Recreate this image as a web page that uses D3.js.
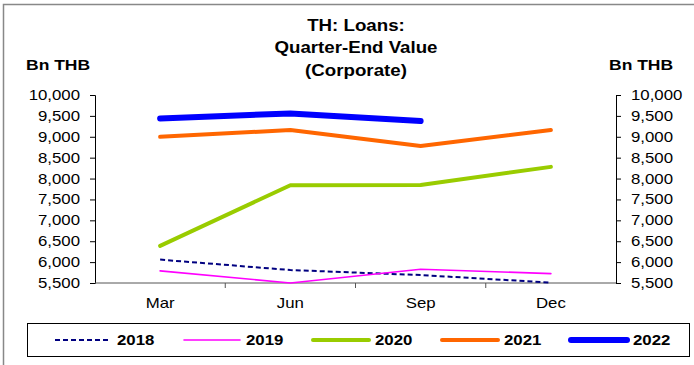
<!DOCTYPE html>
<html>
<head>
<meta charset="utf-8">
<script src="https://cdn.jsdelivr.net/npm/d3@7"></script>
<style>
html,body{margin:0;padding:0;background:#fff;}
svg{display:block;font-family:"Liberation Sans",Arial,sans-serif;}
</style>
</head>
<body>
<svg id="c" width="694" height="365"></svg>
<script>
const categories = ["Mar", "Jun", "Sep", "Dec"];
const yTicks = [5500, 6000, 6500, 7000, 7500, 8000, 8500, 9000, 9500, 10000];
const s2018 = [6060, 5810, 5690, 5510];
const s2019 = [5790, 5500, 5830, 5725];
const s2020 = [6390, 7840, 7845, 8280];
const s2021 = [9000, 9160, 8780, 9160];
const s2022 = [9440, 9560, 9375, null];
const seriesNames = ["2018", "2019", "2020", "2021", "2022"];
const titleLines = ["TH: Loans:", "Quarter-End Value", "(Corporate)"];

const seriesData = [s2018, s2019, s2020, s2021, s2022];
const styles = [
  {color: "#000080", width: 2, dash: "5,3"},
  {color: "#ff00ff", width: 1.6, dash: null},
  {color: "#99cc00", width: 4, dash: null},
  {color: "#ff6600", width: 4, dash: null},
  {color: "#0000ff", width: 6, dash: null}
];

const K = 1.2; // horizontal text stretch as in the reference
function stretch(sel, k) {
  sel.each(function() {
    const t = d3.select(this);
    const xv = +(t.attr("x") || 0);
    t.attr("x", xv / k).attr("transform", "scale(" + k + ",1)");
    t.selectAll("tspan").each(function() {
      const s = d3.select(this);
      if (s.attr("x") != null) s.attr("x", +s.attr("x") / k);
    });
  });
}

const svg = d3.select("#c");
svg.append("rect").attr("x", 3.5).attr("y", 4.5).attr("width", 700).attr("height", 400)
  .attr("fill", "none").attr("stroke", "#888").attr("stroke-width", 1.5);

const x = d3.scaleBand().domain(categories).range([95, 616]);
const y = d3.scaleLinear().domain([5500, 10000]).range([283, 95]);

const fmt = d3.format(",");
function styleAxis(g) {
  g.select(".domain").attr("stroke", "#000");
  g.selectAll(".tick line").attr("stroke", "#000");
  g.selectAll("text").attr("font-size", 14).attr("fill", "#000")
    .attr("font-family", "Liberation Sans, Arial, sans-serif");
  stretch(g.selectAll("text"), K);
}
svg.append("g").attr("transform", "translate(95,0)")
  .call(d3.axisLeft(y).tickValues(yTicks).tickFormat(fmt).tickSize(5).tickPadding(10))
  .call(styleAxis);
svg.append("g").attr("transform", "translate(616,0)")
  .call(d3.axisRight(y).tickValues(yTicks).tickFormat(fmt).tickSize(5).tickPadding(10))
  .call(styleAxis);

// x axis
const xg = svg.append("g").attr("transform", "translate(0,283)");
xg.append("line").attr("x1", 95).attr("x2", 616).attr("stroke", "#555").attr("stroke-width", 1);
categories.slice(1).forEach(c => {
  xg.append("line").attr("x1", x(c)).attr("x2", x(c)).attr("y1", 0).attr("y2", 5).attr("stroke", "#555");
});
xg.selectAll("text.cat").data(categories).enter().append("text")
  .attr("x", d => x(d) + x.bandwidth() / 2).attr("y", 25)
  .attr("text-anchor", "middle").attr("font-size", 14).text(d => d)
  .call(s => stretch(s, K));

// lines
const line = d3.line()
  .defined(d => d.v != null)
  .x(d => x(d.c) + x.bandwidth() / 2)
  .y(d => y(d.v));
seriesData.forEach((arr, i) => {
  const pts = categories.map((c, j) => ({c: c, v: arr[j]}));
  svg.append("path").datum(pts).attr("d", line)
    .attr("fill", "none").attr("stroke", styles[i].color)
    .attr("stroke-width", styles[i].width)
    .attr("stroke-linecap", styles[i].dash ? "butt" : "round")
    .attr("stroke-linejoin", "round")
    .attr("stroke-dasharray", styles[i].dash);
});

// title
const tt = svg.append("text").attr("x", 0).attr("y", 0).attr("text-anchor", "middle")
  .attr("font-weight", "bold").attr("font-size", 17);
tt.selectAll("tspan").data(titleLines).enter().append("tspan")
  .attr("x", 356).attr("y", (d, i) => 31 + i * 22.5).text(d => d);
stretch(tt, 1.1);

svg.append("text").attr("x", 26).attr("y", 70).attr("font-weight", "bold").attr("font-size", 15.5).text("Bn THB")
  .call(s => stretch(s, 1.13));
svg.append("text").attr("x", 609).attr("y", 70).attr("font-weight", "bold").attr("font-size", 15.5).text("Bn THB")
  .call(s => stretch(s, 1.13));

// legend
svg.append("rect").attr("x", 27.5).attr("y", 323.5).attr("width", 662).attr("height", 33)
  .attr("fill", "#fff").attr("stroke", "#000").attr("stroke-width", 1);
const legX = [55, 184, 313, 442, 571];
seriesNames.forEach((n, i) => {
  const g = svg.append("g");
  g.append("line").attr("x1", legX[i]).attr("x2", legX[i] + 56).attr("y1", 340).attr("y2", 340)
    .attr("stroke", styles[i].color).attr("stroke-width", styles[i].width)
    .attr("stroke-linecap", styles[i].dash ? "butt" : "round")
    .attr("stroke-dasharray", styles[i].dash);
  g.append("text").attr("x", legX[i] + 62).attr("y", 345.5).attr("font-weight", "bold")
    .attr("font-size", 15).text(n).call(s => stretch(s, 1.12));
});
</script>
</body>
</html>
